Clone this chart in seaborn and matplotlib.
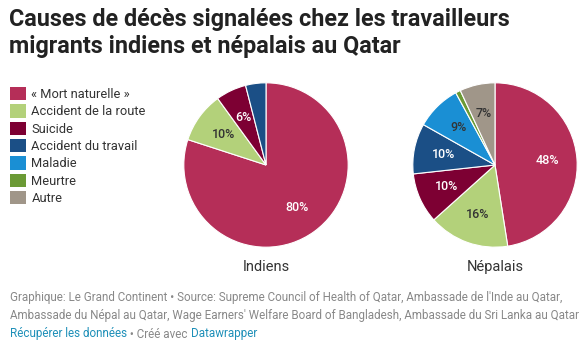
import matplotlib
matplotlib.use("Agg")
import matplotlib.pyplot as plt
import matplotlib.patches as mpatches
import seaborn as sns

causes = ['« Mort naturelle »', 'Accident de la route', 'Suicide',
          'Accident du travail', 'Maladie', 'Meurtre', 'Autre']
colors = ['#b52e58', '#b3d17a', '#7d0033', '#1b4f86', '#1a8fd4', '#6b9a35', '#a09689']

indiens = [80, 10, 6, 4]
indiens_labels = ['80%', '10%', '6%', '']
nepalais = [48, 16, 10, 10, 9, 1, 7]
nepalais_labels = ['48%', '16%', '10%', '10%', '9%', '', '7%']

# text colour on each slice (dark on light colours)
label_colors = ['white', '#333333', 'white', 'white', '#333333', 'white', '#333333']

sns.set_theme(style='white')
plt.rcParams['font.family'] = ['Roboto', 'DejaVu Sans']

fig = plt.figure(figsize=(5.8, 3.6), dpi=100)
fig.patch.set_facecolor('white')


def draw_pie(rect, values, labels, name):
    ax = fig.add_axes(rect)
    wedges, texts, autotexts = ax.pie(
        values, colors=colors[:len(values)], startangle=90, counterclock=False,
        autopct='%d', pctdistance=0.64,
        wedgeprops=dict(edgecolor='white', linewidth=0.8))
    for i, t in enumerate(autotexts):
        t.set_text(labels[i])
        t.set_color(label_colors[i])
        t.set_fontsize(9)
        t.set_fontweight('medium')
    ax.set_xlim(-1.01, 1.01)
    ax.set_ylim(-1.01, 1.01)
    ax.set_aspect('equal')
    ax.axis('off')
    ax.text(0, -1.24, name, ha='center', va='center', fontsize=10.5, color='#333333')
    return ax


draw_pie([183 / 580, 1 - 248 / 360, 166 / 580, 166 / 360], indiens, indiens_labels, 'Indiens')
draw_pie([412 / 580, 1 - 248 / 360, 166 / 580, 166 / 360], nepalais, nepalais_labels, 'Népalais')

# title
fig.text(9 / 580, 1 - 8 / 360, 'Causes de décès signalées chez les travailleurs\nmigrants indiens et népalais au Qatar',
         ha='left', va='top', fontsize=16.8, fontweight='bold', color='#222222', linespacing=1.2)

# legend
handles = [mpatches.Patch(facecolor=c, edgecolor='none', label=l) for c, l in zip(colors, causes)]
fig.legend(handles=handles, loc='upper left', bbox_to_anchor=(10 / 580, 1 - 87 / 360),
           frameon=False, fontsize=9.3, handlelength=1.2, handleheight=1.2,
           handletextpad=0.45, labelspacing=0.26, borderaxespad=0, borderpad=0,
           labelcolor='#333333')

# footer
grey = '#888888'
blue = '#1d8fb8'
fs = 8.4
fig.text(10 / 580, 1 - 298 / 360,
         'Graphique: Le Grand Continent • Source: Supreme Council of Health of Qatar, Ambassade de l\'Inde au Qatar,',
         ha='left', va='center', fontsize=fs, color=grey)
fig.text(10 / 580, 1 - 316 / 360,
         'Ambassade du Népal au Qatar, Wage Earners\' Welfare Board of Bangladesh, Ambassade du Sri Lanka au Qatar',
         ha='left', va='center', fontsize=fs, color=grey)
t1 = fig.text(10 / 580, 1 - 334 / 360, 'Récupérer les données', ha='left', va='center',
              fontsize=fs, color=blue)
a2 = plt.annotate(' • Créé avec ', xy=(1, 0), xycoords=t1, va='bottom', ha='left',
                  fontsize=fs, color=grey, annotation_clip=False)
plt.annotate('Datawrapper', xy=(1, 0), xycoords=a2, va='bottom', ha='left',
             fontsize=fs, color=blue, annotation_clip=False)

fig.savefig('out.png', dpi=100, facecolor='white')
